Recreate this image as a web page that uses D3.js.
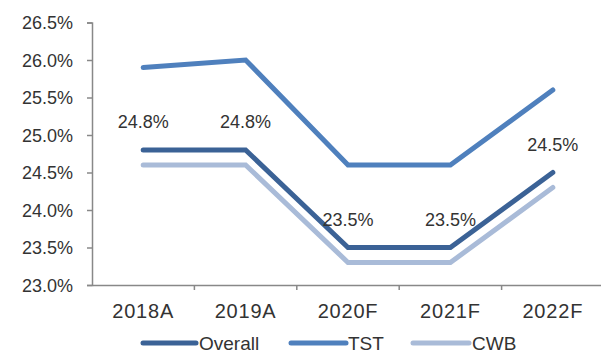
<!DOCTYPE html>
<html>
<head>
<meta charset="utf-8">
<script src="https://cdn.jsdelivr.net/npm/d3@7"></script>
<style>
  html, body { margin: 0; padding: 0; background: #fff; }
  svg text { font-family: "Liberation Sans", Arial, sans-serif; fill: #333; }
</style>
</head>
<body>
<svg id="chart" width="601" height="354"></svg>
<script>
// Categories and series (percent)
const categories = ["2018A", "2019A", "2020F", "2021F", "2022F"];
const overall = [24.8, 24.8, 23.5, 23.5, 24.5];
const tst = [25.9, 26.0, 24.6, 24.6, 25.6];
const cwb = [24.6, 24.6, 23.3, 23.3, 24.3];
const yTicks = [23.0, 23.5, 24.0, 24.5, 25.0, 25.5, 26.0, 26.5];
const seriesNames = ["Overall", "TST", "CWB"];
const seriesColors = ["#3b6296", "#4f80bd", "#a9bbd8"];

const svg = d3.select("#chart");
const plotLeft = 92, plotRight = 604, plotTop = 22.5, plotBottom = 285;

const x = d3.scaleBand().domain(categories).range([plotLeft, plotRight]);
const y = d3.scaleLinear().domain([23.0, 26.5]).range([plotBottom, plotTop]);

// Y axis
const yAxis = d3.axisLeft(y).tickValues(yTicks).tickSize(5).tickPadding(14)
  .tickFormat(d => d.toFixed(1) + "%");
const gy = svg.append("g").attr("transform", `translate(${plotLeft},0)`).call(yAxis);
gy.select(".domain").attr("stroke", "#888").attr("stroke-width", 1.5);
gy.selectAll(".tick line").attr("stroke", "#888").attr("stroke-width", 1.5);
gy.selectAll(".tick text").style("font-size", "18px").attr("fill", "#333")
  .attr("dy", "0.36em");

// X axis
const xAxis = d3.axisBottom(x).tickSize(0).tickPadding(0);
const gx = svg.append("g").attr("transform", `translate(0,${plotBottom})`).call(xAxis);
gx.select(".domain").attr("stroke", "#888").attr("stroke-width", 1.5);
gx.selectAll(".tick text").style("font-size", "20px").style("letter-spacing", "0.8px")
  .attr("fill", "#333").attr("y", 33).attr("dy", null);
// Category boundary ticks
gx.selectAll(".bound").data(categories.slice(1)).enter().append("line")
  .attr("x1", d => x(d)).attr("x2", d => x(d))
  .attr("y1", 0).attr("y2", 5)
  .attr("stroke", "#888").attr("stroke-width", 1.5);

const cx = d => x(d) + x.bandwidth() / 2;
const line = d3.line().x((d, i) => cx(categories[i])).y(d => y(d));

// Lines (CWB, TST, then Overall on top)
const data = [overall, tst, cwb];
[2, 1, 0].forEach(k => {
  svg.append("path").datum(data[k])
    .attr("d", line)
    .attr("fill", "none")
    .attr("stroke", seriesColors[k])
    .attr("stroke-width", 5)
    .attr("stroke-linejoin", "miter")
    .attr("stroke-linecap", "round");
});

// Value labels above the Overall line
svg.append("g").selectAll("text").data(overall).enter().append("text")
  .attr("x", (d, i) => cx(categories[i]))
  .attr("y", d => y(d) - 22)
  .attr("text-anchor", "middle")
  .style("font-size", "18px")
  .text(d => d.toFixed(1) + "%");

// Legend
const legendItems = [
  { name: seriesNames[0], color: seriesColors[0], x1: 143, x2: 196, tx: 199 },
  { name: seriesNames[1], color: seriesColors[1], x1: 291, x2: 346, tx: 348 },
  { name: seriesNames[2], color: seriesColors[2], x1: 413, x2: 469, tx: 472 }
];
const lg = svg.append("g");
legendItems.forEach(it => {
  lg.append("line").attr("x1", it.x1).attr("x2", it.x2).attr("y1", 343).attr("y2", 343)
    .attr("stroke", it.color).attr("stroke-width", 5).attr("stroke-linecap", "round");
  lg.append("text").attr("x", it.tx).attr("y", 350).style("font-size", "19px").text(it.name);
});
</script>
</body>
</html>
